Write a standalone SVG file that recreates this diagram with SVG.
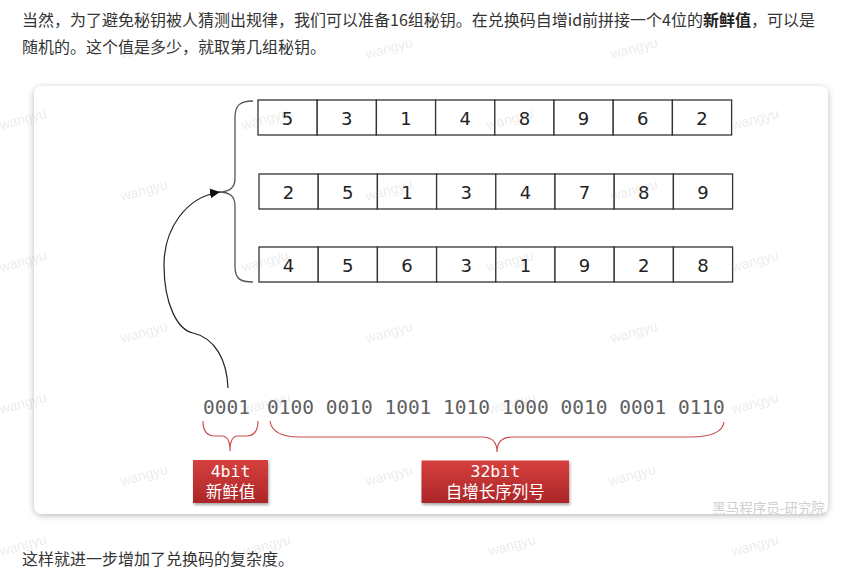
<svg xmlns="http://www.w3.org/2000/svg" width="855" height="582" viewBox="0 0 855 582">
<defs>
<style>
.para{font-family:"Noto Sans CJK SC","Liberation Sans",sans-serif;font-size:16px;fill:#333}
.cell{fill:#fff;stroke:#333;stroke-width:1.3}
.num{font-family:"DejaVu Sans",sans-serif;font-size:18px;fill:#222;text-anchor:middle}
.bin{font-family:"DejaVu Sans Mono",monospace;font-size:19.5px;fill:#606060}
.lbl1{font-family:"DejaVu Sans Mono",monospace;font-size:16.5px;fill:#fff;text-anchor:middle}
.lbl2{font-family:"Noto Sans CJK SC",sans-serif;font-size:16.5px;fill:#fff;text-anchor:middle}
.wm{font-family:"Liberation Sans",sans-serif;font-size:14px;fill:#888;opacity:0.16}
.rbrace{fill:none;stroke:#c9504e;stroke-width:1.2}
</style>
<filter id="cardShadow" x="-5%" y="-5%" width="110%" height="110%">
<feDropShadow dx="0" dy="1.5" stdDeviation="3" flood-color="#000" flood-opacity="0.28"/>
</filter>
<filter id="boxShadow" x="-10%" y="-10%" width="120%" height="130%">
<feDropShadow dx="1" dy="2" stdDeviation="1.5" flood-color="#000" flood-opacity="0.35"/>
</filter>
<linearGradient id="red" x1="0" y1="0" x2="0" y2="1">
<stop offset="0" stop-color="#d6403e"/>
<stop offset="1" stop-color="#ab2628"/>
</linearGradient>
<marker id="arrow" viewBox="0 0 10 10" refX="10" refY="5" markerWidth="10" markerHeight="10" markerUnits="userSpaceOnUse" orient="auto">
<path d="M0,0 L10,5 L0,10 z" fill="#111"/>
</marker>
</defs>
<rect width="855" height="582" fill="#fff"/>
<text class="para" x="22" y="26">当然，为了避免秘钥被人猜测出规律，我们可以准备16组秘钥。在兑换码自增id前拼接一个4位的<tspan font-weight="bold" fill="#222">新鲜值</tspan>，可以是</text>
<text class="para" x="22" y="53">随机的。这个值是多少，就取第几组秘钥。</text>
<rect id="card" x="34" y="86" width="794" height="428" rx="8" fill="#fff" filter="url(#cardShadow)"/>
<g id="row1">
<rect class="cell" x="258" y="100" width="59.2" height="35"/><rect class="cell" x="317.2" y="100" width="59.2" height="35"/><rect class="cell" x="376.4" y="100" width="59.2" height="35"/><rect class="cell" x="435.6" y="100" width="59.2" height="35"/><rect class="cell" x="494.8" y="100" width="59.2" height="35"/><rect class="cell" x="554" y="100" width="59.2" height="35"/><rect class="cell" x="613.2" y="100" width="59.2" height="35"/><rect class="cell" x="672.4" y="100" width="59.2" height="35"/>
<text class="num" x="287.6" y="124.5">5</text><text class="num" x="346.8" y="124.5">3</text><text class="num" x="406" y="124.5">1</text><text class="num" x="465.2" y="124.5">4</text><text class="num" x="524.4" y="124.5">8</text><text class="num" x="583.6" y="124.5">9</text><text class="num" x="642.8" y="124.5">6</text><text class="num" x="702" y="124.5">2</text>
</g>
<g id="row2">
<rect class="cell" x="259" y="174" width="59.2" height="35"/><rect class="cell" x="318.2" y="174" width="59.2" height="35"/><rect class="cell" x="377.4" y="174" width="59.2" height="35"/><rect class="cell" x="436.6" y="174" width="59.2" height="35"/><rect class="cell" x="495.8" y="174" width="59.2" height="35"/><rect class="cell" x="555" y="174" width="59.2" height="35"/><rect class="cell" x="614.2" y="174" width="59.2" height="35"/><rect class="cell" x="673.4" y="174" width="59.2" height="35"/>
<text class="num" x="288.6" y="198.5">2</text><text class="num" x="347.8" y="198.5">5</text><text class="num" x="407" y="198.5">1</text><text class="num" x="466.2" y="198.5">3</text><text class="num" x="525.4" y="198.5">4</text><text class="num" x="584.6" y="198.5">7</text><text class="num" x="643.8" y="198.5">8</text><text class="num" x="703" y="198.5">9</text>
</g>
<g id="row3">
<rect class="cell" x="259" y="247" width="59.2" height="35"/><rect class="cell" x="318.2" y="247" width="59.2" height="35"/><rect class="cell" x="377.4" y="247" width="59.2" height="35"/><rect class="cell" x="436.6" y="247" width="59.2" height="35"/><rect class="cell" x="495.8" y="247" width="59.2" height="35"/><rect class="cell" x="555" y="247" width="59.2" height="35"/><rect class="cell" x="614.2" y="247" width="59.2" height="35"/><rect class="cell" x="673.4" y="247" width="59.2" height="35"/>
<text class="num" x="288.6" y="271.5">4</text><text class="num" x="347.8" y="271.5">5</text><text class="num" x="407" y="271.5">6</text><text class="num" x="466.2" y="271.5">3</text><text class="num" x="525.4" y="271.5">1</text><text class="num" x="584.6" y="271.5">9</text><text class="num" x="643.8" y="271.5">2</text><text class="num" x="703" y="271.5">8</text>
</g>
<g id="binary">
<text class="bin" x="203" y="414">0001</text>
<text class="bin" x="267" y="414">0100 0010 1001 1010 1000 0010 0001 0110</text>
</g>
<g id="connectors">
<path d="M253,101 C240,101 235,105 235,118 L235,178 C235,188 230,192 218,192 C230,192 235,196 235,206 L235,266 C235,279 240,282 253,282" fill="none" stroke="#555" stroke-width="1.3"/>
<path d="M228,388 C227,360 215,338 193,333 C178,330 164,305 164,265 C164,230 185,197 220,192" fill="none" stroke="#222" stroke-width="1.2" marker-end="url(#arrow)"/>
<path class="rbrace" d="M203,421 Q203,436 215,436 L222,436 Q230,436 230,451 Q230,436 238,436 L246,436 Q258,436 258,421"/>
<path class="rbrace" d="M270,421 Q272,437 300,437 L482,437 Q497,437 497,452 Q497,437 512,437 L690,437 Q722,437 724,422"/>
</g>
<g id="box4bit">
<rect x="193" y="460" width="75" height="43" fill="url(#red)" filter="url(#boxShadow)"/>
<text class="lbl1" x="230.5" y="477">4bit</text>
<text class="lbl2" x="230.5" y="498">新鲜值</text>
</g>
<g id="box32bit">
<rect x="421.5" y="460.5" width="147.5" height="42.5" fill="url(#red)" filter="url(#boxShadow)"/>
<text class="lbl1" x="495.3" y="477">32bit</text>
<text class="lbl2" x="495.3" y="498">自增长序列号</text>
</g>
<text x="825" y="513" font-family="Noto Sans CJK SC,sans-serif" font-size="13.5px" fill="#cfcfcf" text-anchor="end">黑马程序员-研究院</text>
<text class="para" x="22" y="565">这样就进一步增加了兑换码的复杂度。</text>
<g id="watermarks">
<text class="wm" transform="translate(122,59) rotate(-15)">wangyu</text><text class="wm" transform="translate(367,59) rotate(-15)">wangyu</text><text class="wm" transform="translate(612,59) rotate(-15)">wangyu</text>
<text class="wm" transform="translate(1,130) rotate(-15)">wangyu</text><text class="wm" transform="translate(243,130) rotate(-15)">wangyu</text><text class="wm" transform="translate(488,130) rotate(-15)">wangyu</text><text class="wm" transform="translate(733,130) rotate(-15)">wangyu</text>
<text class="wm" transform="translate(122,201) rotate(-15)">wangyu</text><text class="wm" transform="translate(367,201) rotate(-15)">wangyu</text><text class="wm" transform="translate(612,201) rotate(-15)">wangyu</text>
<text class="wm" transform="translate(1,272) rotate(-15)">wangyu</text><text class="wm" transform="translate(243,272) rotate(-15)">wangyu</text><text class="wm" transform="translate(488,272) rotate(-15)">wangyu</text><text class="wm" transform="translate(733,272) rotate(-15)">wangyu</text>
<text class="wm" transform="translate(122,343) rotate(-15)">wangyu</text><text class="wm" transform="translate(367,343) rotate(-15)">wangyu</text><text class="wm" transform="translate(612,343) rotate(-15)">wangyu</text>
<text class="wm" transform="translate(1,414) rotate(-15)">wangyu</text><text class="wm" transform="translate(245,414) rotate(-15)">wangyu</text><text class="wm" transform="translate(490,414) rotate(-15)">wangyu</text><text class="wm" transform="translate(733,414) rotate(-15)">wangyu</text>
<text class="wm" transform="translate(122,486) rotate(-15)">wangyu</text><text class="wm" transform="translate(367,486) rotate(-15)">wangyu</text><text class="wm" transform="translate(610,486) rotate(-15)">wangyu</text>
<text class="wm" transform="translate(1,556) rotate(-15)">wangyu</text><text class="wm" transform="translate(245,556) rotate(-15)">wangyu</text><text class="wm" transform="translate(490,556) rotate(-15)">wangyu</text><text class="wm" transform="translate(733,556) rotate(-15)">wangyu</text>
</g>
</svg>
